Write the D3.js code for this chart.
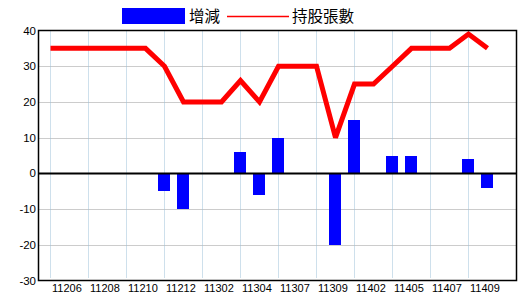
<!DOCTYPE html>
<html><head><meta charset="utf-8">
<script src="https://cdn.jsdelivr.net/npm/d3@7/dist/d3.min.js"></script>
<style>body{margin:0;background:#fff}svg{display:block}</style>
</head><body>
<svg id="c" width="520" height="300"></svg>
<script>
const categories = ["11206","11207","11208","11209","11210","11211","11212","11301","11302","11303","11304","11305","11307","11308","11309","11310","11402","11403","11405","11406","11407","11408","11409","11410"];
const changes = [0,0,0,0,0,0,-5,-10,0,0,6,-6,10,0,0,-20,15,0,5,5,0,0,4,-4];
const holdings = [35,35,35,35,35,35,30,20,20,20,26,20,30,30,30,10,25,25,30,35,35,35,39,35];
const labelIdx = [0,2,4,6,8,10,12,14,16,18,20,22];
const yTicks = [40,30,20,10,0,-10,-20,-30];

const svg = d3.select("#c");
const L = 38.5, R = 516.5, T = 30.5, B = 280.5;
const step = 19;
const x = d3.scalePoint().domain(categories).range([50.5, 50.5 + step*(categories.length-1)]);
const y = d3.scaleLinear().domain([-30, 40]).range([B, T]);

// horizontal grid
svg.append("g").selectAll("line").data(yTicks.filter(v => v !== 40 && v !== -30 && v !== 0)).join("line")
  .attr("x1", L).attr("x2", R).attr("y1", d => Math.round(y(d)) + 0.5).attr("y2", d => Math.round(y(d)) + 0.5)
  .attr("stroke", "#999").attr("stroke-dasharray", "1,1");
// vertical grid
svg.append("g").selectAll("line").data(labelIdx).join("line")
  .attr("x1", i => x(categories[i])).attr("x2", i => x(categories[i]))
  .attr("y1", T).attr("y2", B - 2)
  .attr("stroke", "#9cc0d8").attr("stroke-dasharray", "1,1");

// bars
svg.append("g").selectAll("rect").data(categories.map((c, i) => ({c, v: changes[i]})).filter(d => d.v !== 0)).join("rect")
  .attr("x", d => x(d.c) - 6.5).attr("width", 12)
  .attr("y", d => Math.round(y(Math.max(0, d.v))))
  .attr("height", d => Math.abs(Math.round(y(d.v)) - Math.round(y(0))))
  .attr("fill", "#0000ff");

// zero line
svg.append("line").attr("x1", L).attr("x2", R).attr("y1", Math.round(y(0)) + 0.5).attr("y2", Math.round(y(0)) + 0.5)
  .attr("stroke", "#000").attr("stroke-width", 2);

// line
const line = d3.line().x((d, i) => x(categories[i])).y(d => y(d));
svg.append("path").datum(holdings).attr("d", line)
  .attr("fill", "none").attr("stroke", "#ff0000").attr("stroke-width", 5).attr("stroke-linejoin", "miter").attr("stroke-miterlimit", 3).attr("stroke-linecap", "butt");

// frame
svg.append("rect").attr("x", L).attr("y", T).attr("width", R - L).attr("height", B - T)
  .attr("fill", "none").attr("stroke", "#000").attr("stroke-width", 1.5);

// y axis labels
svg.append("g").selectAll("text").data(yTicks).join("text")
  .attr("x", 36).attr("y", d => y(d)).attr("dy", "0.35em").attr("text-anchor", "end")
  .attr("font-family", "Liberation Sans, Arial, sans-serif").attr("font-size", 11.5).text(d => d);

// x labels
svg.append("g").selectAll("text").data(labelIdx).join("text")
  .attr("x", i => x(categories[i]) + 1.5).attr("y", 292)
  .attr("font-family", "Liberation Sans, Arial, sans-serif").attr("font-size", 11).text(i => categories[i]);

// legend
const lg = svg.append("g").attr("font-family", "Noto Sans CJK TC, sans-serif").attr("font-size", 15.5);
lg.append("rect").attr("x", 122).attr("y", 8).attr("width", 63).attr("height", 16).attr("fill", "#0000ff");
lg.append("text").attr("x", 189).attr("y", 22).text("增減");
lg.append("line").attr("x1", 227).attr("x2", 289).attr("y1", 16.5).attr("y2", 16.5).attr("stroke", "#ff0000").attr("stroke-width", 1.5);
lg.append("text").attr("x", 292).attr("y", 22).text("持股張數");
</script>
</body></html>
